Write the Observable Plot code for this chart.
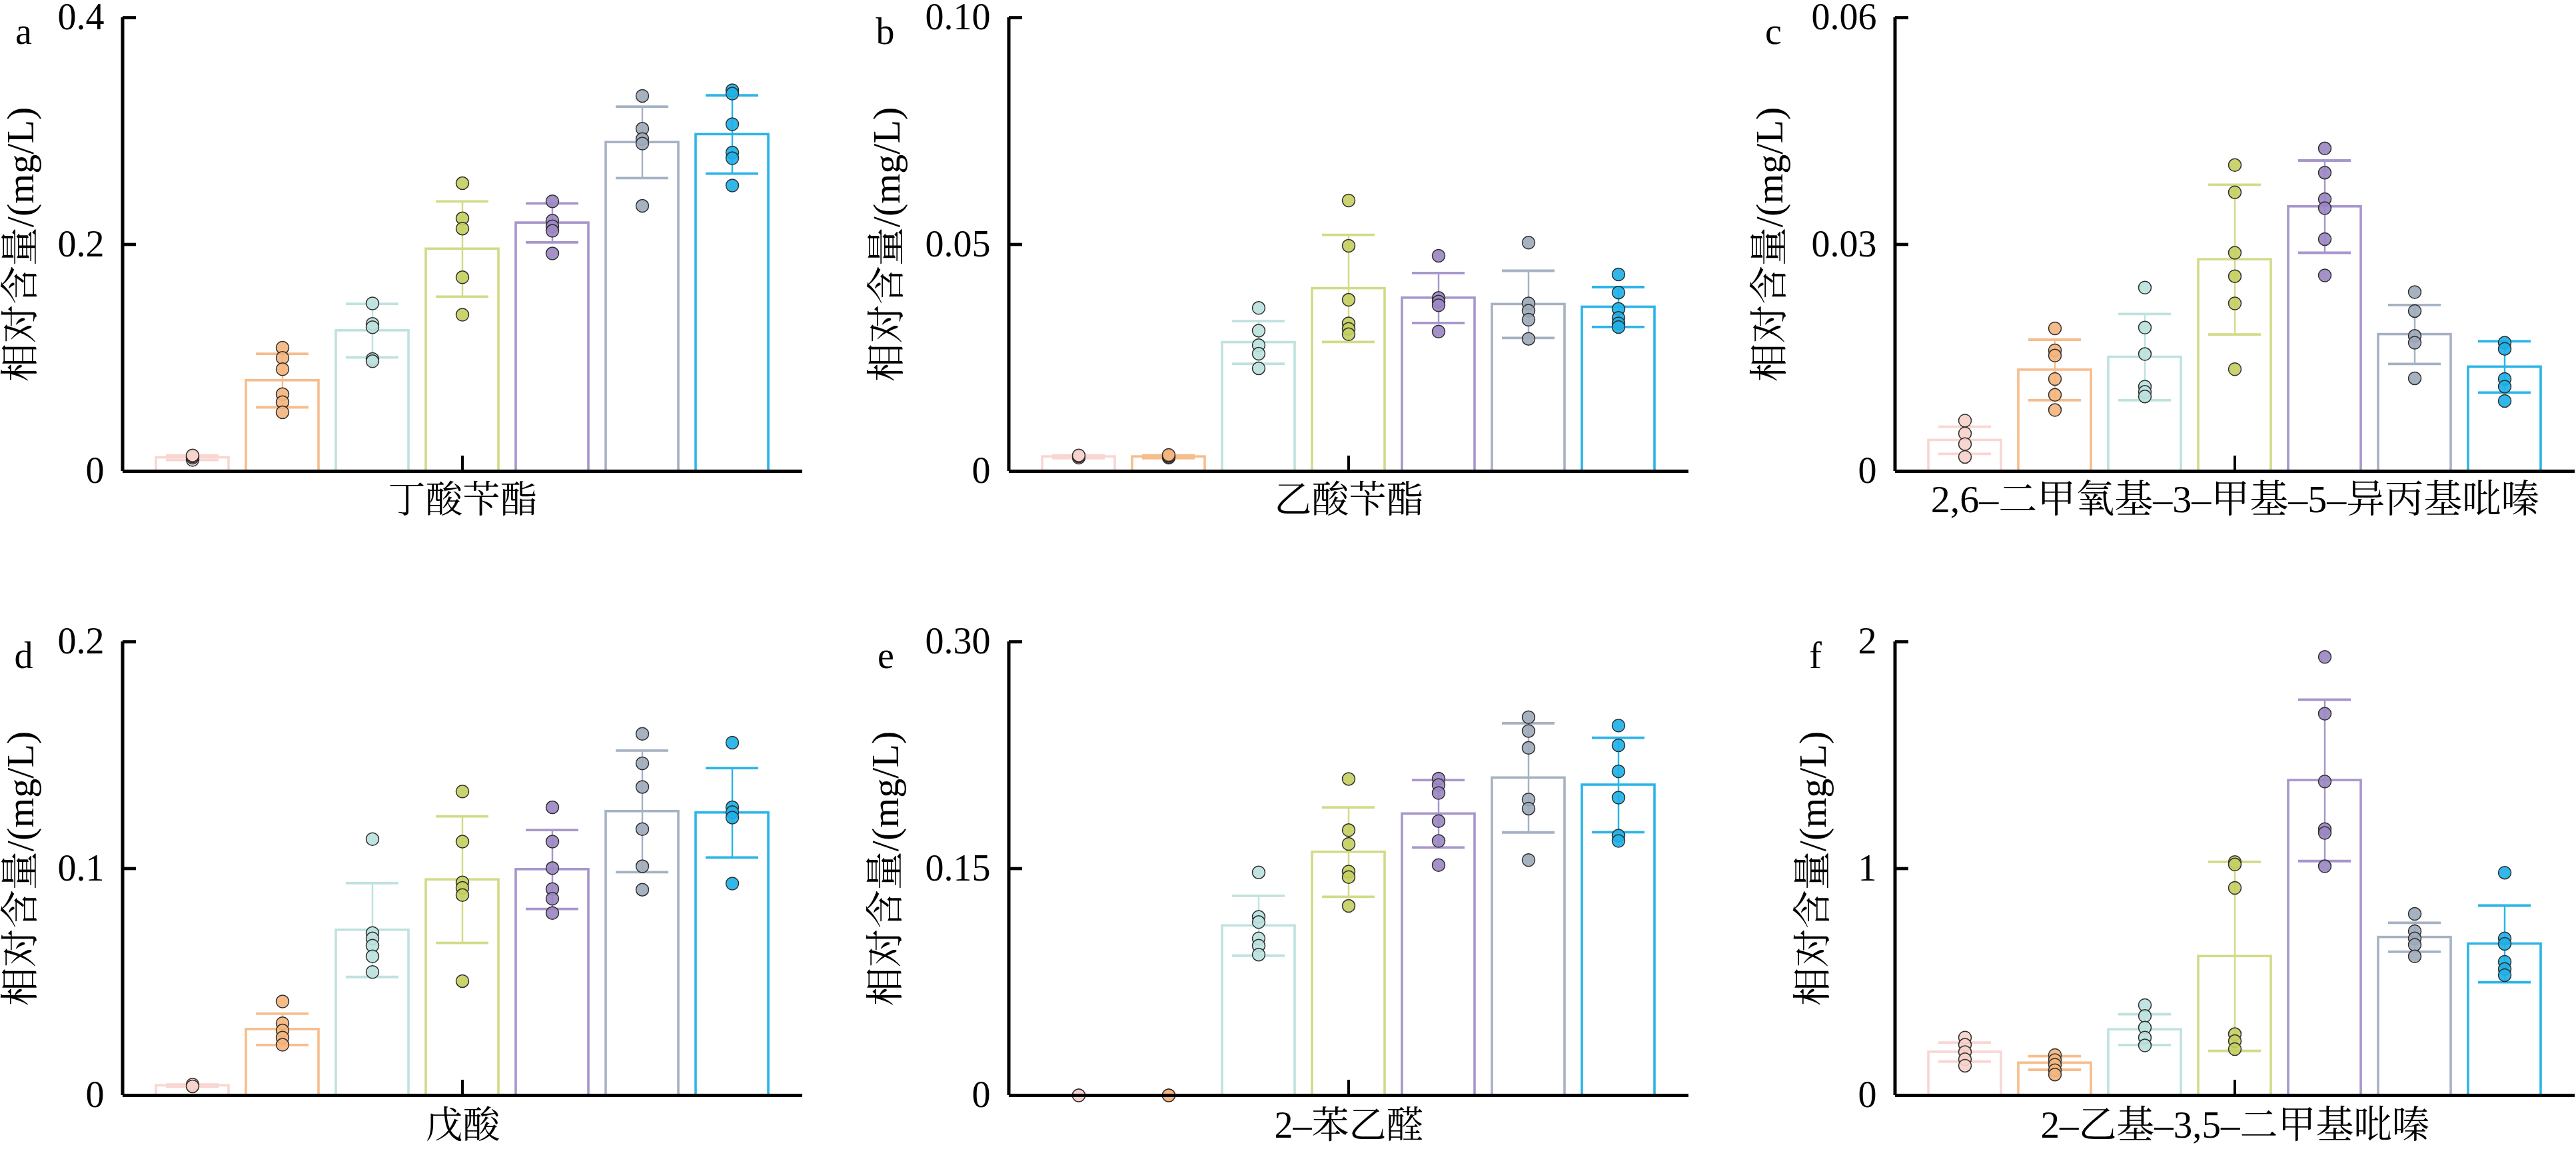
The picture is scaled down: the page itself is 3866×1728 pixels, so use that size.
<!DOCTYPE html>
<html><head><meta charset="utf-8">
<script src="https://cdn.jsdelivr.net/npm/d3@7"></script>
<script src="https://cdn.jsdelivr.net/npm/@observablehq/plot@0.6"></script>
<style>
html,body{margin:0;padding:0;background:#fff;}
#page{position:relative;width:3866px;height:1728px;overflow:hidden;background:#fff;}
.panel{position:absolute;}
</style></head><body><div id="page"></div>
<script>
// ---- data ----
const groups = ["G1", "G2", "G3", "G4", "G5", "G6", "G7"];
const barColors = ["#f9d6d2", "#f6bd8c", "#bfe2df", "#d3da88", "#a796cb", "#a6b2c2", "#2bb4e8"];
const dotColors = ["#f7d2cc", "#f4b57e", "#bde2de", "#c6cf62", "#9c88c3", "#9fabbb", "#1fb1e7"];
const yTitle = "相对含量/(mg/L)";

// a 丁酸苄酯
const aName = "丁酸苄酯";
const aMeans = [0.012, 0.080, 0.124, 0.196, 0.219, 0.290, 0.297];
const aSD = [0.002, 0.0236, 0.0236, 0.042, 0.0172, 0.0315, 0.0345];
const aPoints = [
  [0.010, 0.012, 0.013, 0.014],
  [0.109, 0.100, 0.090, 0.068, 0.061, 0.052],
  [0.148, 0.130, 0.127, 0.099, 0.097],
  [0.254, 0.223, 0.214, 0.171, 0.138],
  [0.238, 0.221, 0.216, 0.212, 0.192],
  [0.331, 0.302, 0.293, 0.289, 0.234],
  [0.336, 0.333, 0.306, 0.281, 0.276, 0.252]
];
const aTicks = [0, 0.2, 0.4];
const aTickLabels = ["0", "0.2", "0.4"];

// b 乙酸苄酯
const bName = "乙酸苄酯";
const bMeans = [0.0032, 0.0032, 0.0284, 0.0403, 0.0382, 0.0368, 0.0362];
const bSD = [0.0003, 0.0003, 0.0047, 0.0118, 0.0055, 0.0074, 0.0044];
const bPoints = [
  [0.0030, 0.0033, 0.0035],
  [0.0030, 0.0032, 0.0034, 0.0036],
  [0.0360, 0.0310, 0.0278, 0.0259, 0.0227],
  [0.0597, 0.0497, 0.0378, 0.0326, 0.0314, 0.0302],
  [0.0475, 0.0382, 0.0374, 0.0366, 0.0308],
  [0.0504, 0.0370, 0.0354, 0.0334, 0.0292],
  [0.0434, 0.0394, 0.0358, 0.0338, 0.0326, 0.0318]
];
const bTicks = [0, 0.05, 0.10];
const bTickLabels = ["0", "0.05", "0.10"];

// c 2,6-二甲氧基-3-甲基-5-异丙基吡嗪
const cName = "2,6–二甲氧基–3–甲基–5–异丙基吡嗪";
const cMeans = [0.0041, 0.0134, 0.0151, 0.0280, 0.0350, 0.0181, 0.0138];
const cSD = [0.0018, 0.0040, 0.0057, 0.0099, 0.0061, 0.0039, 0.0034];
const cPoints = [
  [0.0067, 0.0050, 0.0036, 0.0019],
  [0.0189, 0.0160, 0.0153, 0.0122, 0.0101, 0.0081],
  [0.0243, 0.0190, 0.0155, 0.0112, 0.0105, 0.0099],
  [0.0405, 0.0369, 0.0289, 0.0258, 0.0222, 0.0135],
  [0.0427, 0.0395, 0.0360, 0.0348, 0.0307, 0.0259],
  [0.0237, 0.0212, 0.0179, 0.0170, 0.0123],
  [0.0170, 0.0162, 0.0122, 0.0112, 0.0093]
];
const cTicks = [0, 0.03, 0.06];
const cTickLabels = ["0", "0.03", "0.06"];

// d 戊酸
const dName = "戊酸";
const dMeans = [0.0043, 0.0291, 0.0729, 0.0951, 0.0996, 0.1252, 0.1246];
const dSD = [0.0005, 0.0069, 0.0207, 0.0279, 0.0174, 0.0268, 0.0197];
const dPoints = [
  [0.0048, 0.0040],
  [0.0414, 0.0318, 0.0286, 0.0255, 0.0223],
  [0.1130, 0.0716, 0.0692, 0.0660, 0.0613, 0.0544],
  [0.1340, 0.1119, 0.0939, 0.0915, 0.0883, 0.0504],
  [0.1270, 0.1119, 0.1002, 0.0910, 0.0867, 0.0804],
  [0.1594, 0.1464, 0.1360, 0.1174, 0.1010, 0.0907],
  [0.1555, 0.1270, 0.1249, 0.1225, 0.0934]
];
const dTicks = [0, 0.1, 0.2];
const dTickLabels = ["0", "0.1", "0.2"];

// e 2-苯乙醛
const eName = "2–苯乙醛";
const eMeans = [0, 0, 0.1122, 0.1609, 0.1862, 0.2100, 0.2053];
const eSD = [0, 0, 0.0198, 0.0296, 0.0223, 0.0361, 0.0312];
const ePoints = [
  [0, 0],
  [0, 0],
  [0.1475, 0.1181, 0.1146, 0.1038, 0.0990, 0.0931],
  [0.2093, 0.1754, 0.1663, 0.1480, 0.1444, 0.1253],
  [0.2095, 0.2053, 0.2000, 0.1814, 0.1683, 0.1523],
  [0.2501, 0.2410, 0.2298, 0.1957, 0.1897, 0.1556],
  [0.2446, 0.2315, 0.2143, 0.1969, 0.1718, 0.1683]
];
const eTicks = [0, 0.15, 0.30];
const eTickLabels = ["0", "0.15", "0.30"];

// f 2-乙基-3,5-二甲基吡嗪
const fName = "2–乙基–3,5–二甲基吡嗪";
const fMeans = [0.191, 0.143, 0.290, 0.613, 1.389, 0.697, 0.668];
const fSD = [0.042, 0.030, 0.068, 0.417, 0.356, 0.064, 0.169];
const fPoints = [
  [0.255, 0.223, 0.191, 0.159, 0.131],
  [0.178, 0.156, 0.135, 0.111, 0.092],
  [0.398, 0.350, 0.299, 0.255, 0.220],
  [1.029, 1.018, 0.915, 0.270, 0.239, 0.204],
  [1.933, 1.683, 1.384, 1.174, 1.157, 1.010],
  [0.800, 0.724, 0.692, 0.664, 0.613],
  [0.982, 0.692, 0.668, 0.589, 0.557, 0.530]
];
const fTicks = [0, 1, 2];
const fTickLabels = ["0", "1", "2"];

const panels = [
  {letter: "a", name: aName, means: aMeans, sd: aSD, points: aPoints, ticks: aTicks, tickLabels: aTickLabels},
  {letter: "b", name: bName, means: bMeans, sd: bSD, points: bPoints, ticks: bTicks, tickLabels: bTickLabels},
  {letter: "c", name: cName, means: cMeans, sd: cSD, points: cPoints, ticks: cTicks, tickLabels: cTickLabels},
  {letter: "d", name: dName, means: dMeans, sd: dSD, points: dPoints, ticks: dTicks, tickLabels: dTickLabels},
  {letter: "e", name: eName, means: eMeans, sd: eSD, points: ePoints, ticks: eTicks, tickLabels: eTickLabels},
  {letter: "f", name: fName, means: fMeans, sd: fSD, points: fPoints, ticks: fTicks, tickLabels: fTickLabels}
];

// ---- layout ----
const layout = [
  {left: 0,    top: 0,   ml: 184, mr: 96, titleDx: -153, letterDx: -149, labelSize: 56, labelDy: 61},
  {left: 1300, top: 0,   ml: 214, mr: 46, titleDx: -183, letterDx: -186, labelSize: 56, labelDy: 61},
  {left: 2580, top: 0,   ml: 264, mr: 2,  titleDx: -188, letterDx: -183, labelSize: 58, labelDy: 61},
  {left: 0,    top: 937, ml: 184, mr: 96, titleDx: -153, letterDx: -149, labelSize: 56, labelDy: 63},
  {left: 1300, top: 937, ml: 214, mr: 46, titleDx: -185, letterDx: -185, labelSize: 56, labelDy: 63},
  {left: 2580, top: 937, ml: 264, mr: 2,  titleDx: -123, letterDx: -120, labelSize: 57, labelDy: 63}
];
const serif = "'Liberation Serif', 'Times New Roman', 'Noto Serif CJK SC', 'Noto Sans CJK SC', serif";
const plotW = 1020, plotH = 681, mTop = 26, mBottom = 83;
const centerTickLen = 23;

const page = document.getElementById("page");
panels.forEach((p, k) => {
  const L = layout[k];
  const ymax = p.ticks[p.ticks.length - 1];
  const bars = groups.map((g, i) => ({g, mean: p.means[i], sd: p.sd[i], color: barColors[i]}));
  const dots = groups.flatMap((g, i) => p.points[i].map(v => ({g, v, color: dotColors[i]})));
  const svg = Plot.plot({
    width: L.ml + plotW + L.mr,
    height: mTop + plotH + mBottom,
    marginLeft: L.ml, marginRight: L.mr, marginTop: mTop, marginBottom: mBottom,
    x: {domain: groups, axis: null, paddingInner: 0.19, paddingOuter: 0.36},
    y: {domain: [0, ymax]},
    marks: [
      Plot.barY(bars, {x: "g", y: "mean", fill: "white", stroke: "color", strokeWidth: 3.6}),
      Plot.ruleX(bars, {x: "g", y1: d => d.mean - d.sd, y2: d => d.mean + d.sd, stroke: "color", strokeWidth: 2.5}),
      Plot.tickY(bars, {x: "g", y: d => d.mean + d.sd, stroke: "color", strokeWidth: 3.8, inset: 15}),
      Plot.tickY(bars, {x: "g", y: d => d.mean - d.sd, stroke: "color", strokeWidth: 3.8, inset: 15}),
      Plot.dot(dots, {x: "g", y: "v", r: 9.5, fill: "color", fillOpacity: 0.92, stroke: "#2e2e2e", strokeWidth: 1.5}),
      Plot.ruleY([0], {stroke: "black", strokeWidth: 5}),
      Plot.rect([0], {y1: 0, y2: ymax, insetLeft: -2.5, insetRight: plotW - 2.5, fill: "black"}),
      Plot.tickY(p.ticks.slice(1), {y: d => d, stroke: "black", strokeWidth: 4.7, insetRight: plotW - 20}),
      Plot.ruleX([groups[3]], {x: d => d, y1: 0, y2: ymax * centerTickLen / plotH, stroke: "black", strokeWidth: 4}),
      Plot.axisY(p.ticks, {tickSize: 0, tickPadding: 28, label: null, fontSize: 56, fontFamily: serif, fill: "black",
        tickFormat: d => p.tickLabels[p.ticks.indexOf(d)]}),
      Plot.text([p.name], {text: d => d, frameAnchor: "bottom", dy: L.labelDy, fontSize: L.labelSize, fontFamily: serif, fill: "black"}),
      Plot.text([yTitle], {text: d => d, frameAnchor: "left", textAnchor: "middle", dx: L.titleDx, rotate: -90, fontSize: 58, fontFamily: serif, fill: "black"}),
      Plot.text([p.letter], {text: d => d, frameAnchor: "top-left", dx: L.letterDx, dy: 0, textAnchor: "middle", fontSize: 56, fontFamily: serif, fill: "black"})
    ]
  });
  const div = document.createElement("div");
  div.className = "panel";
  div.style.left = L.left + "px";
  div.style.top = L.top + "px";
  div.appendChild(svg);
  page.appendChild(div);
});
</script>
</body></html>
